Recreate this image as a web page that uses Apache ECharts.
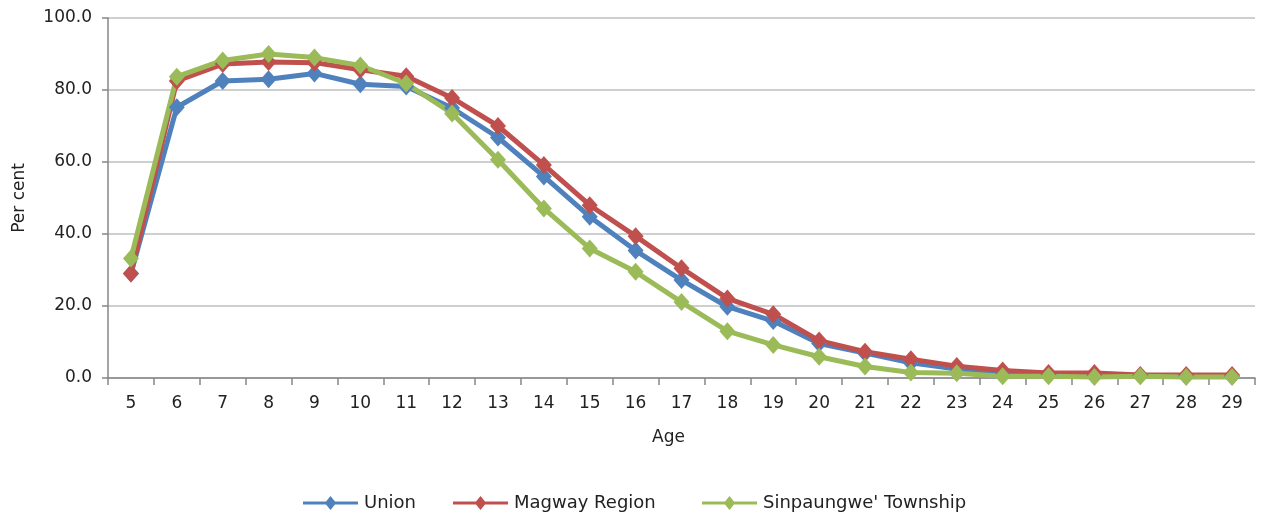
<!DOCTYPE html>
<html>
<head>
<meta charset="utf-8">
<script src="https://cdn.jsdelivr.net/npm/echarts@6/dist/echarts.min.js"></script>
<style>
  html, body { margin: 0; padding: 0; background: #fff; }
  #chart { width: 1269px; height: 517px; }
</style>
</head>
<body>
<div id="chart"></div>
<script>
// Ages shown on the category axis
const ages = ['5','6','7','8','9','10','11','12','13','14','15','16','17','18','19','20','21','22','23','24','25','26','27','28','29'];

// Per cent attending school, by age
const unionValues = [29.0, 75.2, 82.5, 83.0, 84.6, 81.6, 81.0, 75.0, 66.8, 56.0, 44.8, 35.4, 27.2, 19.8, 15.8, 9.6, 6.9, 4.2, 2.5, 1.5, 1.0, 0.8, 0.6, 0.5, 0.5];
const magwayValues = [29.0, 82.5, 87.2, 87.8, 87.6, 85.6, 83.8, 77.8, 70.0, 59.2, 48.0, 39.4, 30.5, 22.1, 17.7, 10.4, 7.3, 5.2, 3.3, 2.1, 1.4, 1.4, 0.8, 0.8, 0.8];
const townshipValues = [33.2, 83.7, 88.2, 90.0, 89.0, 86.8, 81.8, 73.5, 60.6, 47.1, 36.0, 29.5, 21.1, 13.0, 9.2, 5.9, 3.2, 1.5, 1.3, 0.5, 0.5, 0.3, 0.5, 0.3, 0.3];

// Y-axis range and step
const yMin = 0, yMax = 100, yStep = 20;

const seriesDefs = [
  { name: 'Union', data: unionValues, color: '#4F81BD' },
  { name: 'Magway Region', data: magwayValues, color: '#C0504D' },
  { name: "Sinpaungwe' Township", data: townshipValues, color: '#9BBB59' }
];

const legendLefts = [298, 448, 697];
const font = '"DejaVu Sans", "Liberation Sans", Arial, sans-serif';
const textColor = '#222222';

const chart = echarts.init(document.getElementById('chart'), null, { renderer: 'canvas' });

chart.setOption({
  animation: false,
  backgroundColor: '#ffffff',
  grid: { left: 108, right: 14, top: 18, bottom: 139, containLabel: false },
  legend: seriesDefs.map((s, i) => ({
    data: [s.name],
    left: legendLefts[i],
    top: 489,
    itemWidth: 55,
    itemHeight: 14,
    itemGap: 4,
    icon: 'path://M0,5.5 L23,5.5 L27.5,0 L32,5.5 L55,5.5 L55,8.5 L32,8.5 L27.5,14 L23,8.5 L0,8.5 Z',
    textStyle: { fontFamily: font, fontSize: 18, color: textColor, padding: [0, 0, 0, 1] }
  })),
  xAxis: {
    type: 'category',
    data: ages,
    boundaryGap: true,
    name: 'Age',
    nameLocation: 'middle',
    nameGap: 51,
    nameTextStyle: { fontFamily: font, fontSize: 17, color: textColor, padding: [0, 26, 0, 0] },
    axisLine: { show: true, lineStyle: { color: '#868686', width: 1.5 } },
    axisTick: { show: true, alignWithLabel: false, length: 7, lineStyle: { color: '#868686', width: 1.5 } },
    axisLabel: { fontFamily: font, fontSize: 17, color: textColor, margin: 17 },
    splitLine: { show: false }
  },
  yAxis: {
    type: 'value',
    min: yMin,
    max: yMax,
    interval: yStep,
    name: 'Per cent',
    nameLocation: 'middle',
    nameGap: 80,
    nameRotate: 90,
    nameTextStyle: { fontFamily: font, fontSize: 17, color: textColor },
    axisLine: { show: true, lineStyle: { color: '#868686', width: 1.5 } },
    axisTick: { show: true, length: 6, inside: false, lineStyle: { color: '#868686', width: 1.5 } },
    axisLabel: {
      fontFamily: font, fontSize: 17, color: textColor, margin: 16,
      formatter: v => v.toFixed(1)
    },
    splitLine: { show: true, lineStyle: { color: '#bfbfbf', width: 1.5 } }
  },
  series: seriesDefs.map(s => ({
    name: s.name,
    type: 'line',
    data: s.data,
    symbol: 'diamond',
    symbolSize: [16, 18],
    showSymbol: true,
    lineStyle: { color: s.color, width: 5 },
    itemStyle: { color: s.color, borderWidth: 0 },
    emphasis: { disabled: true }
  }))
});
</script>
</body>
</html>
